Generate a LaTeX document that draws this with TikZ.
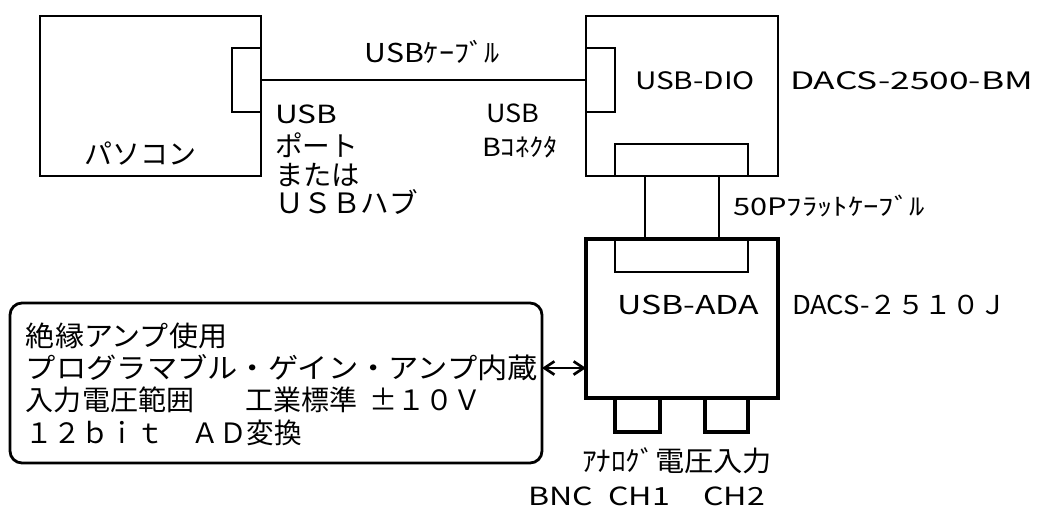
\documentclass[tikz,border=0pt]{standalone}
\usepackage{fontspec}
\setmainfont{Noto Sans CJK JP}
\usepackage{graphicx}
\usetikzlibrary{arrows.meta,calc}
\newlength\px \setlength\px{0.75pt}
\newcommand\fsz[1]{\fontsize{#1\px}{#1\px}\selectfont}
\newcommand\sw[2]{\resizebox{#1\px}{\height}{#2}}
\begin{document}
\begin{tikzpicture}[x=0.75pt,y=-0.75pt,
  thinbox/.style={draw=black, line width=2.1pt, inner sep=0pt, outer sep=0pt},
  thickbox/.style={draw=black, line width=3.6pt, inner sep=0pt, outer sep=0pt},
  txt/.style={inner sep=0pt, outer sep=0pt, text=black},
  wire/.style={draw=black, line width=2.1pt}]
\useasboundingbox[fill=white] (0,0) rectangle (1041,508);

% PC
\node[thinbox, minimum width=221\px, minimum height=160\px] (pc) at (150.5,96) {};
\node[thinbox, minimum width=29\px, minimum height=64\px] (pcport) at (246.5,80) {};
\node[txt, anchor=base] (pctext) at (140,164) {\fsz{28}パソコン};

% USB-DIO
\node[thinbox, minimum width=192\px, minimum height=160\px] (dio) at (682,96) {};
\node[thinbox, minimum width=29\px, minimum height=64\px] (dioport) at (600.5,80) {};
\node[thinbox, minimum width=133\px, minimum height=32\px] (dioconn) at (681.5,160) {};
\node[txt, anchor=base west] (diotext) at (635,89) {\fsz{24}\sw{120}{USB-DIO}};
\node[txt, anchor=base west] (diomodel) at (790,89) {\fsz{24}\sw{243}{DACS-2500-BM}};

% USB cable
\draw[wire] (pcport.east) -- (dioport.west);
\node[txt, anchor=base] (cabletext) at (432,62) {\fsz{26}\sw{135}{USBｹｰﾌﾞﾙ}};
\node[txt, anchor=base west] (pl1) at (275,123) {\fsz{25}\sw{62}{USB}};
\node[txt, anchor=base west] (pl2) at (275,156) {\fsz{28}\sw{83}{ポート}};
\node[txt, anchor=base west] (pl3) at (275,185) {\fsz{28}\sw{85}{または}};
\node[txt, anchor=base west] (pl4) at (275,213) {\fsz{28}\sw{143}{ＵＳＢハブ}};
\node[txt, anchor=base] (bl1) at (513,122) {\fsz{25}\sw{53}{USB}};
\node[txt, anchor=base] (bl2) at (520,156) {\fsz{25}\sw{76}{Bｺﾈｸﾀ}};

% USB-ADA
\node[thickbox, minimum width=192\px, minimum height=159\px] (ada) at (682,318.5) {};
\node[thinbox, minimum width=133\px, minimum height=33\px] (adaconn) at (681.5,255.5) {};
\node[thickbox, minimum width=45\px, minimum height=34\px] (bnc1) at (637.5,415) {};
\node[thickbox, minimum width=43\px, minimum height=34\px] (bnc2) at (726.5,415) {};
\node[txt, anchor=base west] (adatext) at (617,314) {\fsz{26}\sw{142}{USB-ADA}};
\node[txt, anchor=base west] (adamodel) at (792,314) {\fsz{26}\sw{215}{DACS-２５１０Ｊ}};

% flat cable
\draw[wire] ($(dioconn.south)+(-36.5,0)$) -- ($(adaconn.north)+(-36.5,0)$);
\draw[wire] ($(dioconn.south)+(37.5,0)$) -- ($(adaconn.north)+(37.5,0)$);
\node[txt, anchor=base west] (flattext) at (733,215) {\fsz{24}\sw{192}{50Pﾌﾗｯﾄｹｰﾌﾞﾙ}};

% BNC labels
\node[txt, anchor=base west] (anatext) at (582,471) {\fsz{28}\sw{190}{ｱﾅﾛｸﾞ電圧入力}};
\node[txt, anchor=base west] (bnctext) at (528,505) {\fsz{25}\sw{237}{BNC\hspace{12\px}CH1\hspace{26\px}CH2}};

% info box
\node[thinbox, rounded corners=12\px, minimum width=532\px, minimum height=160\px] (info) at (276,383) {};
\node[txt, anchor=base west] (il1) at (26,346) {\fsz{28}\sw{201}{絶縁アンプ使用}};
\node[txt, anchor=base west] (il2) at (26,378) {\fsz{28}\sw{512}{プログラマブル・ゲイン・アンプ内蔵}};
\node[txt, anchor=base west] (il3) at (26,410) {\fsz{28}入力電圧範囲\hspace{52\px}工業標準\hspace{12\px}\makebox[28\px]{±}１０Ｖ};
\node[txt, anchor=base west] (il4) at (26,443) {\fsz{28}\sw{276}{１２ｂｉｔ　ＡＤ変換}};

% arrow
\coordinate (arry) at (564,368);
\draw[wire, line width=2pt, {Straight Barb[length=7.5pt,width=10pt]}-{Straight Barb[length=7.5pt,width=10pt]}]
  (info.east |- arry) -- (ada.west |- arry);
\end{tikzpicture}
\end{document}
